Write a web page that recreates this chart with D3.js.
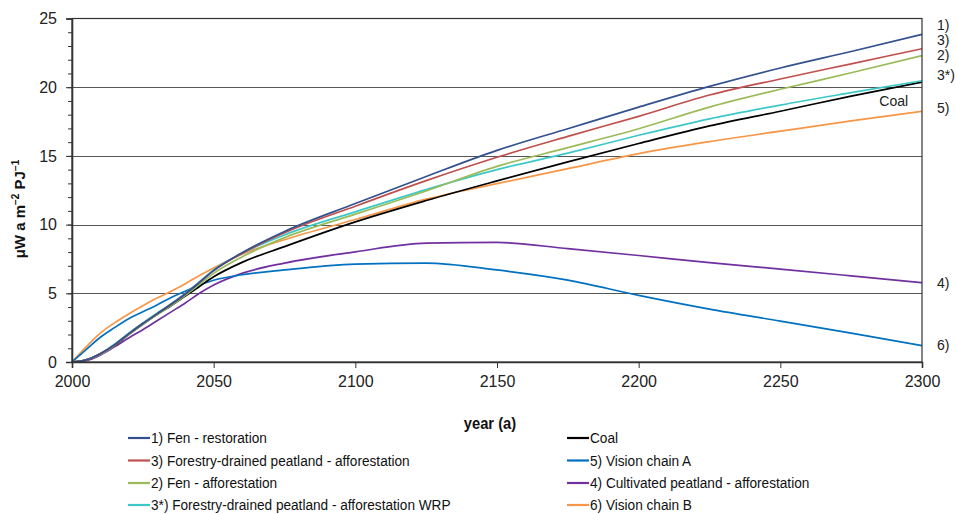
<!DOCTYPE html>
<html>
<head>
<meta charset="utf-8">
<script src="https://cdn.jsdelivr.net/npm/d3@7"></script>
<style>
  html, body { margin: 0; padding: 0; background: #fff; }
  svg { display: block; }
</style>
</head>
<body>
<svg id="chart" width="957" height="514"></svg>
<script>
// ---------------- data ----------------
const years = [2000,2005,2010,2015,2020,2025,2030,2035,2040,2045,2050,2060,2075,2100,2125,2150,2175,2200,2225,2250,2275,2300];

const fenRestoration   = [0,0.15,0.6,1.25,2.05,2.8,3.5,4.2,4.95,5.8,6.65,7.95,9.5,11.53,13.5,15.4,16.98,18.55,20.06,21.4,22.6,23.84];
const forestryAffor    = [0,0.15,0.6,1.25,2.05,2.8,3.5,4.2,4.95,5.8,6.65,7.9,9.4,11.34,13.2,14.9,16.42,17.88,19.43,20.6,21.7,22.8];
const fenAffor         = [0,0.15,0.55,1.2,2.0,2.75,3.45,4.1,4.85,5.65,6.45,7.65,9.05,10.76,12.45,14.24,15.6,16.98,18.55,19.85,21.05,22.3];
const forestryWRP      = [0,0.15,0.6,1.3,2.1,2.85,3.55,4.25,5.0,5.85,6.7,7.9,9.25,10.93,12.55,14.0,15.2,16.5,17.7,18.7,19.6,20.47];
const coal             = [0,0.15,0.6,1.2,2.0,2.75,3.45,4.1,4.8,5.5,6.2,7.25,8.4,10.2,11.75,13.18,14.56,15.9,17.18,18.25,19.35,20.37];
const visionChainA     = [0,0.9,1.8,2.5,3.15,3.65,4.15,4.7,5.15,5.6,5.95,6.35,6.7,7.12,7.2,6.7,5.96,4.85,3.85,2.98,2.1,1.19];
const cultivatedAffor  = [0,0.1,0.5,1.1,1.75,2.35,3.0,3.65,4.3,5.0,5.6,6.45,7.2,8.02,8.65,8.7,8.25,7.75,7.23,6.76,6.27,5.77];
const visionChainB     = [0,1.1,2.1,2.85,3.5,4.1,4.65,5.15,5.7,6.3,6.85,7.85,8.9,10.37,11.85,12.98,14.07,15.17,16.04,16.8,17.55,18.24];

const seriesNames = [
  "1) Fen - restoration",
  "3) Forestry-drained peatland - afforestation",
  "2) Fen - afforestation",
  "3*) Forestry-drained peatland - afforestation WRP",
  "Coal",
  "5) Vision chain A",
  "4) Cultivated peatland - afforestation",
  "6) Vision chain B"
];
const seriesValues = [fenRestoration, forestryAffor, fenAffor, forestryWRP, coal, visionChainA, cultivatedAffor, visionChainB];
const seriesColors = ["#34518f", "#c0504d", "#9bbb59", "#3cc8c8", "#000000", "#0070c0", "#7030a0", "#f79646"];

const xTicks = [2000,2050,2100,2150,2200,2250,2300];
const yTicks = [0,5,10,15,20,25];
const yMinorTicks = d3.range(0, 26, 1);

// end-of-line annotations (value at which each label sits)
const endLabels = ["1)", "3)", "2)", "3*)", "5)", "4)", "6)"];
const endLabelValues = [24.55, 23.45, 22.3, 20.9, 18.5, 5.75, 1.25];
const coalLabel = {text: "Coal", year: 2290, value: 19.0};

// ---------------- layout ----------------
const svg = d3.select("#chart");
const m = {left: 72, right: 922, top: 18.5, bottom: 362};
const x = d3.scaleLinear().domain([2000, 2300]).range([m.left, m.right]);
const y = d3.scaleLinear().domain([0, 25]).range([m.bottom, m.top]);
const axisColor = "#333";
const font = "'Liberation Sans', Arial, sans-serif";

// gridlines
svg.append("g").selectAll("line").data(yTicks.filter(d => d > 0 && d < 25)).join("line")
  .attr("x1", m.left).attr("x2", m.right)
  .attr("y1", d => Math.round(y(d)) + 0.5).attr("y2", d => Math.round(y(d)) + 0.5)
  .attr("stroke", "#555").attr("stroke-width", 1);

// series lines
const line = d3.line().x((d, i) => x(years[i])).y(d => y(d)).curve(d3.curveMonotoneX);
const drawOrder = [7, 6, 5, 4, 3, 2, 1, 0];
svg.append("g").selectAll("path").data(drawOrder).join("path")
  .attr("d", k => line(seriesValues[k]))
  .attr("fill", "none")
  .attr("stroke", k => seriesColors[k])
  .attr("stroke-width", 1.7)
  .attr("stroke-linejoin", "round");

// plot frame
svg.append("rect")
  .attr("x", m.left).attr("y", m.top)
  .attr("width", m.right - m.left).attr("height", m.bottom - m.top)
  .attr("fill", "none").attr("stroke", axisColor).attr("stroke-width", 1.2);

// y axis
const yAxisMinor = d3.axisLeft(y).tickValues(yMinorTicks).tickSize(4).tickFormat("");
svg.append("g").attr("transform", `translate(${m.left},0)`).call(yAxisMinor)
  .call(g => g.select(".domain").remove())
  .call(g => g.selectAll("line").attr("stroke", axisColor));
const yAxis = d3.axisLeft(y).tickValues(yTicks).tickSize(6).tickPadding(9).tickFormat(d3.format("d"));
svg.append("g").attr("transform", `translate(${m.left},0)`).call(yAxis)
  .call(g => g.select(".domain").attr("stroke", axisColor).attr("stroke-width", 1.6))
  .call(g => g.selectAll("line").attr("stroke", axisColor))
  .call(g => g.selectAll("text").attr("font-family", font).attr("font-size", 16).attr("fill", "#222"));

// x axis
const xAxis = d3.axisBottom(x).tickValues(xTicks).tickSize(6).tickPadding(8).tickFormat(d3.format("d"));
svg.append("g").attr("transform", `translate(0,${m.bottom})`).call(xAxis)
  .call(g => g.select(".domain").attr("stroke", axisColor).attr("stroke-width", 1.6))
  .call(g => g.selectAll("line").attr("stroke", axisColor))
  .call(g => g.selectAll("text").attr("font-family", font).attr("font-size", 16).attr("fill", "#222"));

// axis titles
svg.append("text")
  .attr("transform", "translate(490,429) scale(0.92,1)")
  .attr("text-anchor", "middle")
  .attr("font-family", font).attr("font-size", 16).attr("font-weight", "bold").attr("fill", "#111")
  .text("year (a)");

const yt = svg.append("text")
  .attr("transform", "translate(25,209) rotate(-90)")
  .attr("text-anchor", "middle")
  .attr("font-family", font).attr("font-size", 15).attr("font-weight", "bold").attr("fill", "#111");
yt.append("tspan").text("μW a m");
yt.append("tspan").attr("font-size", 10).attr("dy", -6).text("−2");
yt.append("tspan").attr("dy", 6).text(" PJ");
yt.append("tspan").attr("font-size", 10).attr("dy", -6).text("−1");

// end labels
svg.append("g").selectAll("text").data(endLabels).join("text")
  .attr("x", 937)
  .attr("y", (d, i) => y(endLabelValues[i]))
  .attr("dy", "0.35em")
  .attr("font-family", font).attr("font-size", 14).attr("fill", "#222")
  .text(d => d);

svg.append("text")
  .attr("x", x(coalLabel.year)).attr("y", y(coalLabel.value))
  .attr("text-anchor", "middle").attr("dy", "0.35em")
  .attr("font-family", font).attr("font-size", 14).attr("fill", "#222")
  .text(coalLabel.text);

// legend (narrow face emulated with a horizontal squeeze)
const colX = [128, 567];
const rowY = [438, 460.5, 483, 505];
const leg = svg.append("g");
seriesNames.forEach((name, i) => {
  const col = Math.floor(i / 4), row = i % 4;
  const g = leg.append("g").attr("transform", `translate(${colX[col]},${rowY[row]})`);
  g.append("line").attr("x1", 0).attr("x2", 22).attr("y1", 0).attr("y2", 0)
    .attr("stroke", seriesColors[i]).attr("stroke-width", 2.2);
  g.append("text").attr("transform", "translate(23,0) scale(0.88,1)").attr("dy", "0.33em")
    .attr("font-family", font).attr("font-size", 15.5).attr("fill", "#111")
    .text(name);
});
</script>
</body>
</html>
